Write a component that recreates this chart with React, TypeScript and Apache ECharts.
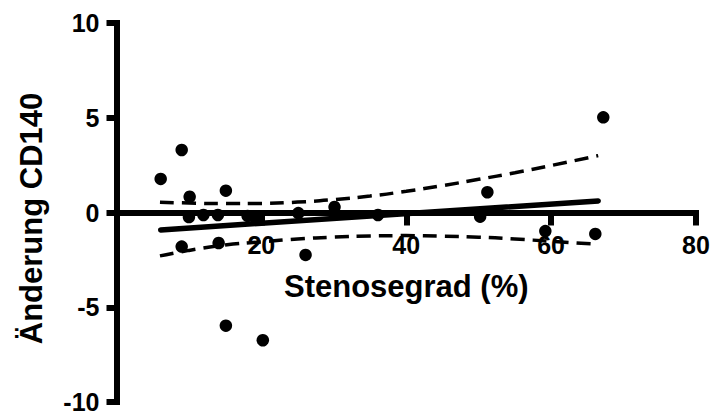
import React, { useEffect, useRef } from "react";
import * as echarts from "echarts";

const stenosis = [6.1, 9.0, 10.1, 10.0, 12.0, 14.0, 15.1, 9.0, 14.1, 15.1, 20.2, 18.1, 19.2, 25.1, 26.1, 30.1, 36.1, 51.2, 50.2, 59.2, 66.1, 67.2];
const changeCD140 = [1.77, 3.3, 0.83, -0.24, -0.13, -0.13, 1.15, -1.8, -1.61, -5.97, -6.74, -0.18, -0.29, -0.03, -2.24, 0.29, -0.13, 1.07, -0.22, -0.98, -1.13, 5.02];

const fitX = [6.1, 66.5];
const fitY = [-0.92, 0.61];

const bandX = [6, 10, 15, 20, 25, 30, 35, 40, 45, 50, 55, 60, 66.5];
const upperBand = [0.54, 0.5, 0.47, 0.48, 0.55, 0.68, 0.87, 1.12, 1.42, 1.75, 2.1, 2.48, 3.0];
const lowerBand = [-2.29, -2.0, -1.72, -1.55, -1.4, -1.3, -1.24, -1.22, -1.25, -1.3, -1.4, -1.52, -1.68];

const xTicks = [0, 20, 40, 60, 80];
const yTicks = [-10, -5, 0, 5, 10];

const xTitle = "Stenosegrad (%)";
const yTitle = "Änderung CD140";

const FONT = "'Liberation Sans', Arial, sans-serif";

export default function App() {
  const ref = useRef<HTMLDivElement>(null);
  useEffect(() => {
    if (!ref.current) return;
    const chart = echarts.init(ref.current, undefined, { renderer: "svg" });
    const pair = (xs: number[], ys: number[]) => xs.map((x, i) => [x, ys[i]]);
    const axisLine = { lineStyle: { color: "#000", width: 6, cap: "square" as const } };
    const top = 23;
    const bottom = 15;
    const plotH = 417 - top - bottom;
    // x axis drawn at y = 0 (middle of the symmetric y range)
    const xOffset = -plotH * (0 - yTicks[0]) / (yTicks[yTicks.length - 1] - yTicks[0]);
    chart.setOption({
      animation: false,
      grid: { left: 116.5, right: 19, top, bottom, containLabel: false, outerBoundsMode: "none" },
      xAxis: {
        type: "value",
        min: xTicks[0],
        max: xTicks[xTicks.length - 1],
        interval: 20,
        offset: xOffset,
        splitLine: { show: false },
        axisLine: { ...axisLine, onZero: false },
        axisTick: { show: true, inside: false, length: 13, lineStyle: { color: "#000", width: 6 } },
        axisLabel: {
          margin: 20,
          color: "#000",
          fontFamily: FONT,
          fontWeight: "bold",
          fontSize: 25,
          formatter: (v: number) => (v === 0 ? "" : String(v)),
        },
        name: xTitle,
        nameLocation: "middle",
        nameGap: 58,
        nameTextStyle: { color: "#000", fontFamily: FONT, fontWeight: "bold", fontSize: 31 },
      },
      yAxis: {
        type: "value",
        min: yTicks[0],
        max: yTicks[yTicks.length - 1],
        interval: 5,
        splitLine: { show: false },
        axisLine: { ...axisLine, onZero: false },
        axisTick: { show: true, inside: false, length: 10, lineStyle: { color: "#000", width: 6 } },
        axisLabel: {
          margin: 17,
          color: "#000",
          fontFamily: FONT,
          fontWeight: "bold",
          fontSize: 25,
        },
        name: yTitle,
        nameLocation: "middle",
        nameGap: 70,
        nameTextStyle: {
          color: "#000",
          fontFamily: FONT,
          fontWeight: "bold",
          fontSize: 31,
          padding: [0, 12, 0, 0],
        },
      },
      series: [
        {
          type: "line",
          data: pair(bandX, upperBand),
          showSymbol: false,
          smooth: true,
          lineStyle: { color: "#000", width: 3.5, type: [14, 8] },
          z: 3,
        },
        {
          type: "line",
          data: pair(bandX, lowerBand),
          showSymbol: false,
          smooth: true,
          lineStyle: { color: "#000", width: 3.5, type: [14, 8] },
          z: 3,
        },
        {
          type: "line",
          data: pair(fitX, fitY),
          showSymbol: false,
          lineStyle: { color: "#000", width: 5.5, cap: "round" },
          z: 4,
        },
        {
          type: "scatter",
          data: pair(stenosis, changeCD140),
          symbol: "circle",
          symbolSize: 12.5,
          itemStyle: { color: "#000", opacity: 1 },
          z: 5,
        },
      ],
    });
    return () => chart.dispose();
  }, []);
  return <div ref={ref} style={{ width: 715, height: 417, position: "absolute", left: 0, top: 0 }} />;
}
